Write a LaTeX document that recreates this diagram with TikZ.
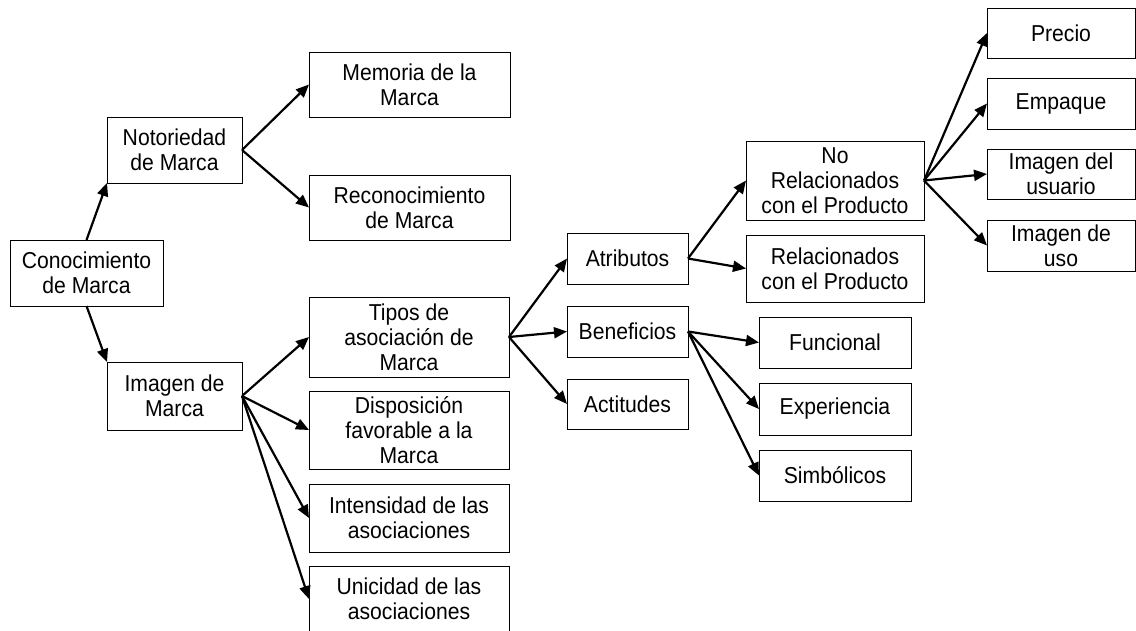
\documentclass[tikz,border=0pt]{standalone}
\usepackage{fontspec}
\setmainfont{Liberation Sans}
\newfontfamily\boxfont[FakeStretch=0.92]{Liberation Sans}
\usetikzlibrary{arrows.meta}
\begin{document}
\begin{tikzpicture}[x=1pt,y=-1pt,
  box/.style={draw=black,line width=1pt,fill=white,inner sep=0pt,outer sep=0pt,align=center,
    font=\boxfont\fontsize{23}{25}\selectfont},
  arr/.style={line width=2.2pt,-{Triangle[length=13pt,width=11pt]},shorten >=0pt}
]
\useasboundingbox (0,0) rectangle (1136,630);
\def\bx#1#2#3#4#5#6{\node[box,minimum width=#4pt,minimum height=#5pt] (#1) at (#2,#3) {#6};}
\bx{con}{86.5}{273}{153}{66}{Conocimiento\\de Marca}
\bx{noto}{174.5}{150}{135}{66}{Notoriedad\\de Marca}
\bx{imag}{174.5}{396}{135}{68}{Imagen de\\Marca}
\bx{mem}{409.5}{84.5}{201}{65}{Memoria de la\\Marca}
\bx{rec}{409.5}{207.5}{201}{65}{Reconocimiento\\de Marca}
\bx{tipos}{409}{337}{200}{80}{Tipos de\\asociación de\\Marca}
\bx{disp}{409}{430}{200}{78}{Disposición\\favorable a la\\Marca}
\bx{inten}{409}{518}{200}{68}{Intensidad de las\\asociaciones}
\bx{unic}{409}{599}{200}{66}{Unicidad de las\\asociaciones}
\bx{atr}{627.5}{258.5}{121}{51}{Atributos}
\bx{ben}{627.5}{331.5}{121}{51}{Beneficios}
\bx{act}{627.5}{404}{121}{50}{Actitudes}
\bx{norel}{835}{180.5}{178}{79}{No\\Relacionados\\con el Producto}
\bx{rel}{835}{268.5}{178}{67}{Relacionados\\con el Producto}
\bx{precio}{1061}{33}{148}{50}{Precio}
\bx{emp}{1061}{103.5}{148}{51}{Empaque}
\bx{usu}{1061}{174}{148}{50}{Imagen del\\usuario}
\bx{uso}{1061}{245.5}{148}{51}{Imagen de\\uso}
\bx{func}{835}{342.5}{152}{51}{Funcional}
\bx{exp}{835}{409}{152}{52}{Experiencia}
\bx{simb}{835}{475.5}{152}{51}{Simbólicos}
\draw[arr] (con.north) -- (noto.south west);
\draw[arr] (con.south) -- (imag.north west);
\draw[arr] (noto.east) -- (mem.west);
\draw[arr] (noto.east) -- (rec.west);
\foreach \t in {tipos,disp,inten,unic} \draw[arr] (imag.east) -- (\t.west);
\foreach \t in {atr,ben,act} \draw[arr] (tipos.east) -- (\t.west);
\foreach \t in {norel,rel} \draw[arr] (atr.east) -- (\t.west);
\foreach \t in {precio,emp,usu,uso} \draw[arr] (norel.east) -- (\t.west);
\foreach \t in {func,exp,simb} \draw[arr] (ben.east) -- (\t.west);
\end{tikzpicture}
\end{document}
